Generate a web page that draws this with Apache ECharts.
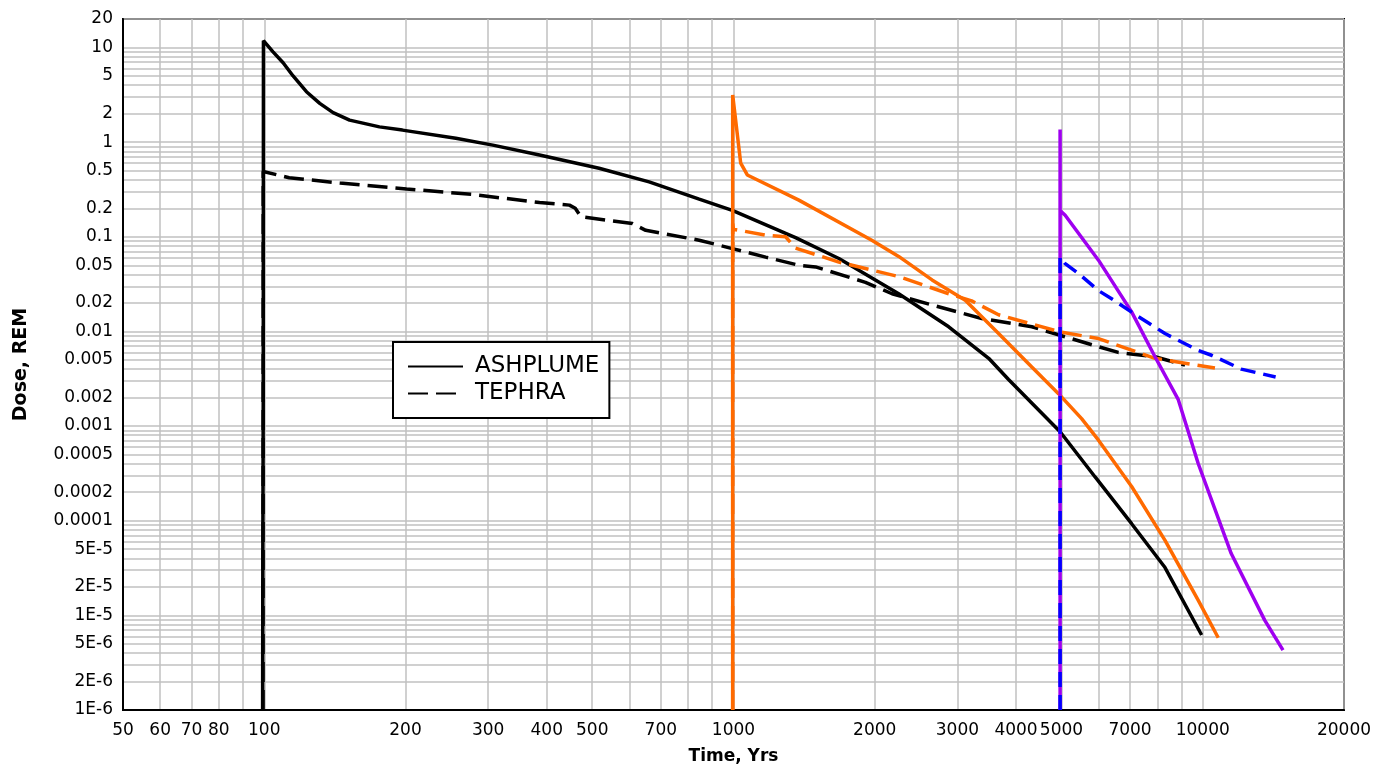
<!DOCTYPE html>
<html>
<head>
<meta charset="utf-8">
<title>Dose vs Time</title>
<script src="https://cdn.jsdelivr.net/npm/echarts@6/dist/echarts.min.js"></script>
<style>
    html, body { margin: 0; padding: 0; background: #fff; }
    #chart { width: 1379px; height: 770px; }
</style>
</head>
<body>
<div id="chart"></div>
<script>
// tick labels
var xTickValues = [50, 60, 70, 80, 100, 200, 300, 400, 500, 700, 1000, 2000, 3000, 4000, 5000, 7000, 10000, 20000];
var yTickValues = [20, 10, 5, 2, 1, 0.5, 0.2, 0.1, 0.05, 0.02, 0.01, 0.005, 0.002, 0.001, 0.0005, 0.0002, 0.0001,
    0.00005, 0.00002, 0.00001, 0.000005, 0.000002, 0.000001];
var yTickLabels = ['20', '10', '5', '2', '1', '0.5', '0.2', '0.1', '0.05', '0.02', '0.01', '0.005', '0.002', '0.001',
    '0.0005', '0.0002', '0.0001', '5E-5', '2E-5', '1E-5', '5E-6', '2E-6', '1E-6'];

// event at 100 yrs
var ashplume100 = [[99.2, 1e-6], [99.3, 5e-5], [99.5, 0.002], [99.6, 11.8], [104.4, 9.0], [109.7, 6.9], [115.2, 5.0],
    [123, 3.41], [131.3, 2.57], [140.2, 2.05], [152, 1.71], [176, 1.45], [197, 1.34], [256, 1.1], [307, 0.93],
    [386, 0.73], [517, 0.53], [661, 0.38], [845, 0.25], [994, 0.19], [1356, 0.098], [1677, 0.059], [2249, 0.025],
    [2875, 0.0112], [3498, 0.0052], [3856, 0.0031], [4966, 0.00087], [5897, 0.00029], [7054, 9.3e-5],
    [8310, 3.2e-5], [9945, 6.2e-6]];
var tephra100 = [[99.4, 1e-6], [99.5, 0.49], [113, 0.42], [145, 0.37], [201, 0.32], [278, 0.28], [386, 0.23],
    [447, 0.216], [460, 0.2], [473, 0.163], [609, 0.138], [650, 0.117], [845, 0.092], [994, 0.075], [1171, 0.061],
    [1378, 0.05], [1496, 0.048], [1911, 0.033], [2177, 0.025], [2649, 0.019], [3381, 0.0137], [4322, 0.0112],
    [4966, 0.0091], [5995, 0.0069], [6607, 0.006], [7911, 0.0054], [9166, 0.0044]];

// event at 1000 yrs
var ashplume1000 = [[996, 1e-6], [996, 3.15], [1036, 0.6], [1070, 0.45], [1378, 0.244], [1971, 0.092], [2249, 0.062],
    [2649, 0.035], [3118, 0.0214], [3672, 0.0095], [4322, 0.0042], [4927, 0.0022], [5519, 0.0012], [5995, 0.00071],
    [7054, 0.00023], [8310, 6.2e-5], [9783, 1.44e-5], [10790, 5.8e-6]];
var tephra1000 = [[996, 1e-6], [996, 0.138], [1000, 0.12], [1171, 0.104], [1291, 0.1], [1356, 0.076], [1677, 0.054],
    [2249, 0.038], [2875, 0.025], [3218, 0.021], [3672, 0.015], [4966, 0.0099], [5995, 0.0084], [7911, 0.0052],
    [10617, 0.0041]];

// event at 5000 yrs
var ashplume5000 = [[4966, 1e-6], [4966, 1.36], [4966, 0.19], [5091, 0.169], [5995, 0.0566], [7054, 0.0161],
    [7911, 0.0054], [8870, 0.0019], [9783, 0.0004], [11500, 4.5e-5], [13550, 8.9e-6], [14825, 4.3e-6]];
var tephra5000 = [[4966, 1e-6], [4966, 0.061], [5091, 0.052], [5433, 0.041], [5995, 0.027], [6503, 0.021],
    [7292, 0.0143], [8310, 0.0095], [9783, 0.0063], [10440, 0.0056], [12080, 0.004], [14300, 0.0033]];

// gridlines at every 1..9 step of each decade
function decadeSteps(fromExp, toExp, last) {
    var out = [];
    for (var e = fromExp; e <= toExp; e++) {
        for (var m = 1; m <= 9; m++) {
            var v = parseFloat((m * Math.pow(10, e)).toPrecision(6));
            if (v <= last) out.push(v);
        }
    }
    return out;
}
var xGrid = decadeSteps(1, 4, 20000).filter(function (v) { return v >= 50; });
var yGrid = decadeSteps(-6, 1, 20);

var font = 'DejaVu Sans';

function lineSeries(name, data, color, dash) {
    return {
        name: name,
        type: 'line',
        data: data,
        symbol: 'none',
        lineStyle: {
            color: color,
            width: 3.5,
            type: dash || 'solid'
        },
        itemStyle: { color: color }
    };
}

var chart = echarts.init(document.getElementById('chart'));
var option = {
    animation: false,
    grid: {
        left: 123,
        right: 35,
        top: 19,
        bottom: 60,
        show: true,
        borderColor: '#000',
        borderWidth: 2
    },
    legend: {
        data: ['ASHPLUME', 'TEPHRA'],
        orient: 'vertical',
        left: 393,
        top: 342,
        padding: [13, 10, 13, 14],
        itemGap: 4,
        itemWidth: 55,
        itemHeight: 14,
        borderColor: '#000',
        borderWidth: 2,
        backgroundColor: '#fff',
        itemStyle: { opacity: 0 },
        textStyle: {
            fontFamily: font,
            fontSize: 23,
            color: '#000',
            padding: [0, 0, 0, 7]
        }
    },
    xAxis: {
        type: 'log',
        logBase: 10,
        min: 50,
        max: 20000,
        name: 'Time, Yrs',
        nameLocation: 'middle',
        nameGap: 38,
        nameTextStyle: { fontFamily: font, fontWeight: 'bold', fontSize: 17, color: '#000' },
        axisLine: { show: true, lineStyle: { color: '#000', width: 2 } },
        axisTick: { show: false, customValues: xGrid },
        splitLine: { show: true, lineStyle: { color: '#c0c0c0', width: 1.5 } },
        axisLabel: {
            customValues: xTickValues,
            margin: 12,
            fontFamily: font,
            fontSize: 17,
            color: '#000',
            formatter: function (v) { return String(Math.round(v)); }
        }
    },
    yAxis: {
        type: 'log',
        logBase: 10,
        min: 0.000001,
        max: 20,
        name: 'Dose, REM',
        nameLocation: 'middle',
        nameGap: 92,
        nameTextStyle: { fontFamily: font, fontWeight: 'bold', fontSize: 19, color: '#000' },
        axisLine: { show: true, lineStyle: { color: '#000', width: 2 } },
        axisTick: { show: false, customValues: yGrid },
        splitLine: { show: true, lineStyle: { color: '#c0c0c0', width: 1.5 } },
        axisLabel: {
            customValues: yTickValues,
            margin: 10,
            fontFamily: font,
            fontSize: 17,
            color: '#000',
            formatter: function (v) {
                for (var i = 0; i < yTickValues.length; i++) {
                    if (Math.abs(Math.log10(v) - Math.log10(yTickValues[i])) < 1e-4) return yTickLabels[i];
                }
                return '';
            }
        }
    },
    series: [
        lineSeries('ASHPLUME', ashplume100, '#000000'),
        lineSeries('TEPHRA', tephra100, '#000000', [20, 8]),
        lineSeries('ASHPLUME 1000', ashplume1000, '#ff6a00'),
        lineSeries('TEPHRA 1000', tephra1000, '#ff6a00', [20, 8]),
        lineSeries('ASHPLUME 5000', ashplume5000, '#9f00f0'),
        lineSeries('TEPHRA 5000', tephra5000, '#0000ff', [15, 8])
    ]
};
chart.setOption(option);
</script>
</body>
</html>
